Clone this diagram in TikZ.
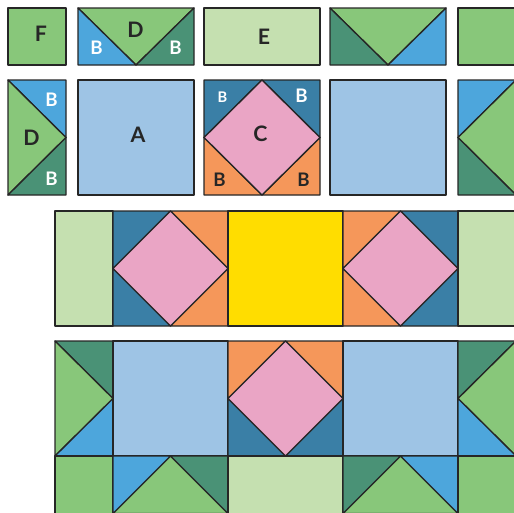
\documentclass[tikz,border=0pt]{standalone}
\usepackage{fontspec}
\setsansfont{Lato}

\definecolor{patchF}{RGB}{136,199,122}
\definecolor{patchE}{RGB}{197,224,176}
\definecolor{patchBb}{RGB}{77,166,220}
\definecolor{patchBg}{RGB}{74,146,118}
\definecolor{patchBs}{RGB}{58,127,166}
\definecolor{patchBo}{RGB}{245,151,90}
\definecolor{patchA}{RGB}{158,196,229}
\definecolor{patchC}{RGB}{234,165,197}
\definecolor{patchY}{RGB}{255,221,0}
\definecolor{seam}{RGB}{38,38,38}

\tikzset{
  seamline/.style={draw=seam,line width=1pt,line join=round},
  pF/.style={seamline,fill=patchF},
  pE/.style={seamline,fill=patchE},
  pBb/.style={seamline,fill=patchBb},
  pBg/.style={seamline,fill=patchBg},
  pBs/.style={seamline,fill=patchBs},
  pBo/.style={seamline,fill=patchBo},
  pA/.style={seamline,fill=patchA},
  pC/.style={seamline,fill=patchC},
  pY/.style={seamline,fill=patchY},
  bigtag/.style={text=seam,font=\sffamily\bfseries\fontsize{16}{18}\selectfont},
  btag/.style={text=white,font=\sffamily\bfseries\fontsize{14}{16}\selectfont},
  smalltag/.style={text=white,font=\sffamily\bfseries\fontsize{11}{13}\selectfont},
}

\begin{document}
\begin{tikzpicture}[x=0.75pt,y=0.75pt,yscale=-1,xscale=1]
\useasboundingbox (0,0) rectangle (514,512);
\clip (0,0) rectangle (514,512);

%Row 1: cut pieces
%Shape: Rectangle F
\draw [pF] (8,8) rectangle (66,65) ;
%Shape: Flying geese D
\draw [pF] (78,8) -- (194,8) -- (136,65) -- cycle ;
\draw [pBb] (78,8) -- (136,65) -- (78,65) -- cycle ;
\draw [pBg] (194,8) -- (194,65) -- (136,65) -- cycle ;
%Shape: Rectangle E
\draw [pE] (204,8) rectangle (320,65) ;
%Shape: Flying geese
\draw [pF] (330,8) -- (446,8) -- (388,65) -- cycle ;
\draw [pBg] (330,8) -- (388,65) -- (330,65) -- cycle ;
\draw [pBb] (446,8) -- (446,65) -- (388,65) -- cycle ;
%Shape: Rectangle F
\draw [pF] (458,8) rectangle (516,65) ;

%Row 2: cut pieces
%Shape: Flying geese D, upright
\draw [pBb] (8,80) -- (66,80) -- (66,137.5) -- cycle ;
\draw [pF] (8,80) -- (66,137.5) -- (8,195) -- cycle ;
\draw [pBg] (66,137.5) -- (66,195) -- (8,195) -- cycle ;
%Shape: Square A
\draw [pA] (78,80) rectangle (194,195) ;
%Shape: Square in a square C
\draw [pBs] (204,80) -- (262,80) -- (204,137.5) -- cycle ;
\draw [pBs] (262,80) -- (320,80) -- (320,137.5) -- cycle ;
\draw [pBo] (204,137.5) -- (204,195) -- (262,195) -- cycle ;
\draw [pBo] (320,137.5) -- (320,195) -- (262,195) -- cycle ;
\draw [pC] (262,80) -- (320,137.5) -- (262,195) -- (204,137.5) -- cycle ;
%Shape: Square A
\draw [pA] (330,80) rectangle (446,195) ;
%Shape: Flying geese, upright
\draw [pBb] (458,80) -- (516,80) -- (458,137.5) -- cycle ;
\draw [pF] (516,80) -- (458,137.5) -- (516,195) -- cycle ;
\draw [pBg] (458,137.5) -- (458,195) -- (516,195) -- cycle ;

%Row 3: sewn block
%Shape: Rectangle E
\draw [pE] (55,211) rectangle (113,326) ;
%Shape: Square in a square
\draw [pBs] (113,211) -- (170.5,211) -- (113,268.5) -- cycle ;
\draw [pBo] (170.5,211) -- (228,211) -- (228,268.5) -- cycle ;
\draw [pBs] (113,268.5) -- (113,326) -- (170.5,326) -- cycle ;
\draw [pBo] (228,268.5) -- (228,326) -- (170.5,326) -- cycle ;
\draw [pC] (170.5,211) -- (228,268.5) -- (170.5,326) -- (113,268.5) -- cycle ;
%Shape: Centre square
\draw [pY] (228,211) rectangle (343,326) ;
%Shape: Square in a square
\draw [pBo] (343,211) -- (400.5,211) -- (343,268.5) -- cycle ;
\draw [pBs] (400.5,211) -- (458,211) -- (458,268.5) -- cycle ;
\draw [pBo] (343,268.5) -- (343,326) -- (400.5,326) -- cycle ;
\draw [pBs] (458,268.5) -- (458,326) -- (400.5,326) -- cycle ;
\draw [pC] (400.5,211) -- (458,268.5) -- (400.5,326) -- (343,268.5) -- cycle ;
%Shape: Rectangle E
\draw [pE] (458,211) rectangle (516,326) ;

%Row 4: sewn block
%Shape: Flying geese, upright
\draw [pBg] (55,341) -- (113,341) -- (113,398.5) -- cycle ;
\draw [pF] (55,341) -- (113,398.5) -- (55,456) -- cycle ;
\draw [pBb] (113,398.5) -- (113,456) -- (55,456) -- cycle ;
%Shape: Square A
\draw [pA] (113,341) rectangle (228,456) ;
%Shape: Square in a square
\draw [pBo] (228,341) -- (285.5,341) -- (228,398.5) -- cycle ;
\draw [pBo] (285.5,341) -- (343,341) -- (343,398.5) -- cycle ;
\draw [pBs] (228,398.5) -- (228,456) -- (285.5,456) -- cycle ;
\draw [pBs] (343,398.5) -- (343,456) -- (285.5,456) -- cycle ;
\draw [pC] (285.5,341) -- (343,398.5) -- (285.5,456) -- (228,398.5) -- cycle ;
%Shape: Square A
\draw [pA] (343,341) rectangle (458,456) ;
%Shape: Flying geese, upright
\draw [pBg] (458,341) -- (516,341) -- (458,398.5) -- cycle ;
\draw [pF] (516,341) -- (458,398.5) -- (516,456) -- cycle ;
\draw [pBb] (458,398.5) -- (458,456) -- (516,456) -- cycle ;

%Row 5: sewn block
%Shape: Rectangle F
\draw [pF] (55,456) rectangle (113,513.5) ;
%Shape: Flying geese
\draw [pF] (113,513.5) -- (170.5,456) -- (228,513.5) -- cycle ;
\draw [pBb] (113,456) -- (170.5,456) -- (113,513.5) -- cycle ;
\draw [pBg] (170.5,456) -- (228,456) -- (228,513.5) -- cycle ;
%Shape: Rectangle E
\draw [pE] (228,456) rectangle (343,513.5) ;
%Shape: Flying geese
\draw [pF] (343,513.5) -- (400.5,456) -- (458,513.5) -- cycle ;
\draw [pBg] (343,456) -- (400.5,456) -- (343,513.5) -- cycle ;
\draw [pBb] (400.5,456) -- (458,456) -- (458,513.5) -- cycle ;
%Shape: Rectangle F
\draw [pF] (458,456) rectangle (516,513.5) ;

% Text Node
\node [bigtag] (tagF) at (41,34) {F};
% Text Node
\node [bigtag] (tagDtop) at (135.5,30) {D};
% Text Node
\node [btag] (tagBtopl) at (96.5,48) {B};
% Text Node
\node [btag] (tagBtopr) at (175.5,48) {B};
% Text Node
\node [bigtag] (tagE) at (264,36.5) {E};
% Text Node
\node [btag] (tagBupt) at (51.5,100) {B};
% Text Node
\node [bigtag] (tagDup) at (31.5,137.5) {D};
% Text Node
\node [btag] (tagBupb) at (51.5,179) {B};
% Text Node
\node [bigtag] (tagA) at (138,135) {A};
% Text Node
\node [bigtag] (tagC) at (260.5,134) {C};
% Text Node
\node [smalltag] (tagBctl) at (222.5,97.5) {B};
% Text Node
\node [btag] (tagBctr) at (301.5,95.5) {B};
% Text Node
\node [btag,text=seam] (tagBcbl) at (219.5,180) {B};
% Text Node
\node [btag,text=seam] (tagBcbr) at (303.5,179.5) {B};

\end{tikzpicture}
\end{document}
